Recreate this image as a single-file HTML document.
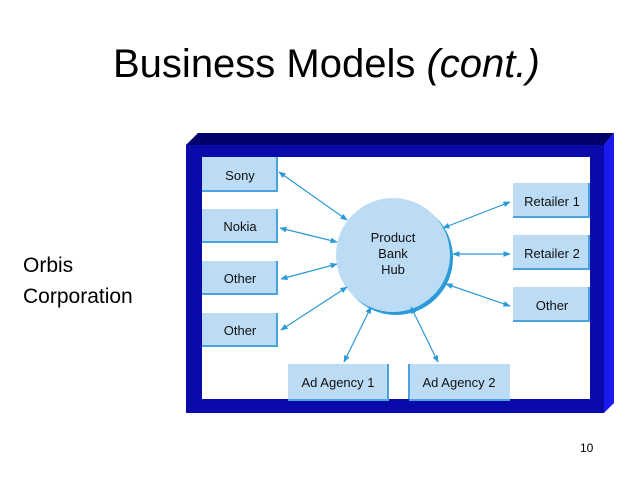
<!DOCTYPE html>
<html><head><meta charset="utf-8"><style>
html,body{margin:0;padding:0;background:#fff}
svg{display:block}
text{font-family:"Liberation Sans",Arial,sans-serif}
</style></head><body>
<svg width="638" height="479" viewBox="0 0 638 479" xmlns="http://www.w3.org/2000/svg">
<defs>
<marker id="a" viewBox="0 0 10 10" refX="9" refY="5" markerWidth="6" markerHeight="6" orient="auto-start-reverse"><path d="M0,1 L10,5 L0,9 z" fill="#2a9ad8"/></marker>
</defs>
<text x="113" y="77" font-size="40" fill="#000">Business Models <tspan font-style="italic">(cont.)</tspan></text>
<text x="23" y="272" font-size="21" fill="#000">Orbis</text>
<text x="23" y="303" font-size="21" fill="#000">Corporation</text>
<text x="580" y="452" font-size="12" fill="#000">10</text>
<!-- frame -->
<polygon points="186,145 198,133 614,133 604,145" fill="#00006a"/>
<polygon points="604,145 614,133 614,403 604,413" fill="#1a1aee"/>
<rect x="186" y="145" width="418" height="268" fill="#0a0aaa"/>
<rect x="202" y="157" width="388" height="242" fill="#fff"/>
<!-- boxes -->
<g fill="#bcdcf5" stroke="#4aa3df" stroke-width="0">
<rect x="202" y="157" width="76" height="35"/>
<rect x="202" y="209" width="76" height="34"/>
<rect x="202" y="261" width="76" height="34"/>
<rect x="202" y="313" width="76" height="34"/>
<rect x="513" y="183" width="77" height="35"/>
<rect x="513" y="235" width="77" height="35"/>
<rect x="513" y="287" width="77" height="35"/>
<rect x="288" y="364" width="101" height="35"/>
<rect x="409" y="364" width="101" height="35"/>
</g>
<g stroke="#4aa3df" stroke-width="2" fill="none">
<path d="M277,157 V191 H202"/><path d="M277,209 V242 H202"/><path d="M277,261 V294 H202"/><path d="M277,313 V346 H202"/>
<path d="M589,183 V217 H513"/><path d="M589,235 V269 H513"/><path d="M589,287 V321 H513"/>
<path d="M388,364 V399 M409,364 V399"/>
<path d="M389,400 H288 M510,400 H409"/>
</g>
<g font-size="13" fill="#111" text-anchor="middle">
<text x="240" y="180">Sony</text>
<text x="240" y="231">Nokia</text>
<text x="240" y="283">Other</text>
<text x="240" y="335">Other</text>
<text x="552" y="206">Retailer 1</text>
<text x="552" y="258">Retailer 2</text>
<text x="552" y="310">Other</text>
<text x="338" y="387">Ad Agency 1</text>
<text x="459" y="387">Ad Agency 2</text>
</g>
<!-- hub -->
<circle cx="396" cy="258" r="57" fill="#2a9ad8"/>
<circle cx="393" cy="255" r="57" fill="#bcdcf5"/>
<g font-size="13" fill="#111" text-anchor="middle">
<text x="393" y="242">Product</text>
<text x="393" y="258">Bank</text>
<text x="393" y="274">Hub</text>
</g>
<g stroke="#2a9ad8" stroke-width="1.2" marker-start="url(#a)" marker-end="url(#a)">
<line x1="279" y1="172" x2="347" y2="220"/>
<line x1="280" y1="228" x2="337" y2="242"/>
<line x1="281" y1="279" x2="337" y2="264"/>
<line x1="281" y1="330" x2="347" y2="287"/>
<line x1="344" y1="362" x2="371" y2="307"/>
<line x1="438" y1="362" x2="411" y2="307"/>
<line x1="510" y1="202" x2="443" y2="228"/>
<line x1="510" y1="254" x2="453" y2="254"/>
<line x1="510" y1="306" x2="446" y2="284"/>
</g>
</svg>
</body></html>
